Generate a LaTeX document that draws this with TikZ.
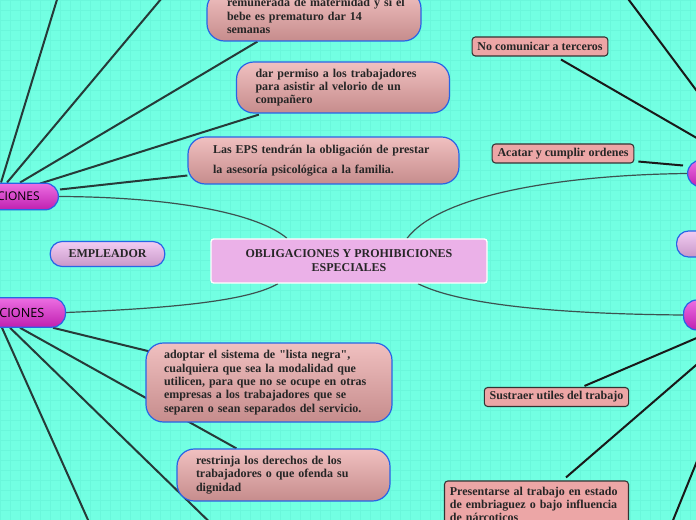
\documentclass[tikz,border=0pt]{standalone}
\usepackage{fontspec}
\setmainfont{Liberation Serif}[Ligatures=TeXOff]
\newfontfamily\cionesfont{Open Sans}
\usetikzlibrary{calc,shadings}

\pgfdeclarelayer{papel}
\pgfdeclarelayer{ramas}
\pgfsetlayers{papel,ramas,main}

\definecolor{fondo}{RGB}{114,255,226}
\definecolor{rejillacol}{RGB}{106,247,219}
\definecolor{lila}{RGB}{235,177,232}
\definecolor{azul}{RGB}{40,100,230}
\definecolor{salmonA}{RGB}{240,192,192}
\definecolor{salmonB}{RGB}{198,140,140}
\definecolor{salmon}{RGB}{236,166,166}
\definecolor{magA}{RGB}{236,110,226}
\definecolor{magB}{RGB}{192,32,176}
\definecolor{lavA}{RGB}{242,204,242}
\definecolor{lavB}{RGB}{200,152,200}
\definecolor{gris}{RGB}{60,82,80}
\definecolor{verdeosc}{RGB}{38,58,56}

\tikzset{
  centro/.style={draw=white, line width=1pt, fill=lila, rounded corners=2pt, minimum width=207pt, minimum height=33pt, align=center, font=\bfseries\fontsize{9}{10.5}\selectfont, text=black!85},
  hoja/.style={draw=azul, line width=0.9pt, top color=salmonA, bottom color=salmonB, rounded corners=13pt, align=left, inner ysep=0pt, font=\bfseries\fontsize{9}{10}\selectfont, text=black!85},
  nota/.style={draw=black!80, line width=0.8pt, fill=salmon, rounded corners=2.5pt, minimum height=14.25pt, inner xsep=4pt, inner ysep=0pt, font=\bfseries\fontsize{9}{10}\selectfont, text=black!85},
  tema/.style={draw=azul, line width=0.9pt, top color=magA, bottom color=magB, rounded corners=10pt, inner ysep=0pt},
  subtema/.style={draw=azul, line width=0.9pt, top color=lavA, bottom color=lavB, rounded corners=9pt, inner ysep=0pt},
  rejilla/.style={draw=rejillacol, line width=0.3pt, xstep=7.5pt, ystep=7.5pt},
  curva/.style={draw=gris, line width=0.9pt},
  rama/.style={draw=verdeosc, line width=1.5pt},
  ramaN/.style={draw=black!90, line width=1.5pt}
}

\begin{document}
\begin{tikzpicture}[x=0.75pt,y=-0.75pt]
\useasboundingbox (0,0) rectangle (696,520);

\begin{pgfonlayer}{papel}
\fill[fondo] (0,0) rectangle (696,520);
\draw[rejilla] (0,520) grid (696,0);
\end{pgfonlayer}

\node[centro] (central) at (349,261) {OBLIGACIONES Y PROHIBICIONES\\ESPECIALES};

\node[tema, anchor=east, minimum height=20pt, text width=50pt, align=right, inner xsep=14pt, font=\cionesfont\fontsize{9}{10}\selectfont] (obligE) at (59,196.5) {CIONES};
\node[tema, anchor=east, minimum height=22pt, text width=50pt, align=right, inner xsep=15.75pt, font=\cionesfont\fontsize{9.5}{10}\selectfont] (prohibE) at (66,312.5) {CIONES};
\node[subtema, minimum width=86pt, minimum height=18.75pt, font=\bfseries\fontsize{9}{10}\selectfont, text=black!85] (empleador) at (107.5,254) {EMPLEADOR};

\node[tema, anchor=west, minimum width=60pt, minimum height=20pt] (obligT) at (687,173.5) {};
\node[subtema, anchor=west, minimum width=60pt, minimum height=19.5pt] (trabajador) at (676,244) {};
\node[tema, anchor=west, minimum width=60pt, minimum height=22.5pt] (prohibT) at (683,315) {};

\node[hoja, text width=130.5pt, inner xsep=15pt, minimum height=37.5pt] (licencia) at (314,16) {\mbox{remunerada de maternidad y si el}\\bebe es prematuro dar 14\\semanas};
\node[hoja, text width=131.25pt, inner xsep=14.25pt, minimum height=38.25pt] (permiso) at (343,87.5) {dar permiso a los trabajadores\\para asistir al velorio de un\\compañero};
\node[hoja, text width=165.75pt, inner xsep=18.75pt, minimum height=35.25pt, font=\bfseries\fontsize{9}{15}\selectfont] (eps) at (323.5,160.5) {Las EPS tendrán la obligación de prestar\\la asesoría psicológica a la familia.};
\node[hoja, text width=157.5pt, inner xsep=13.5pt, minimum height=59.25pt] (listanegra) at (269,382.5) {adoptar el sistema de "lista negra",\\cualquiera que sea la modalidad que\\\mbox{utilicen, para que no se ocupe en otras}\\empresas a los trabajadores que se\\\mbox{separen o sean separados del servicio.}};
\node[hoja, text width=131.25pt, inner xsep=14.25pt, minimum height=39pt] (derechos) at (283.5,475) {restrinja los derechos de los\\trabajadores o que ofenda su\\dignidad};

\node[nota] (terceros) at (540,46.5) {No comunicar a terceros};
\node[nota] (ordenes) at (563,153.5) {Acatar y cumplir ordenes};
\node[nota] (utiles) at (556.5,397) {Sustraer utiles del trabajo};
\node[nota, align=left, text width=130pt, minimum height=35.25pt] (embriaguez) at (536.5,504.5) {Presentarse al trabajo en estado\\de embriaguez o bajo influencia\\de nárcoticos};

\coordinate (arribaA) at (63,-20);
\coordinate (arribaB) at (177,-20);
\coordinate (arribaR) at (614,-20);
\coordinate (abajoA) at (228,540);
\coordinate (abajoB) at (97,540);
\coordinate (abajoR) at (665,540);

\begin{pgfonlayer}{ramas}
\draw[curva] (obligE.east) .. controls (180,197) and (260,215) .. ($(central.north)+(-62,0)$);
\draw[curva] (prohibE.east) .. controls (180,308) and (250,300) .. ($(central.south)+(-71,0)$);
\draw[curva] ($(central.north)+(58,0)$) .. controls (440,195) and (560,175) .. (obligT.west);
\draw[curva] ($(central.south)+(69,0)$) .. controls (460,305) and (560,314) .. (prohibT.west);

\draw[rama] ($(obligE.north east)+(-58,0)$) -- (arribaA);
\draw[rama] ($(obligE.north east)+(-52,0)$) -- (arribaB);
\draw[rama] ($(obligE.north east)+(-39,0)$) -- ($(licencia.south west)+(51,0)$);
\draw[rama] ($(obligE.north east)+(-19,1)$) -- ($(permiso.south west)+(23,1)$);
\draw[rama] ($(obligE.east)+(1,-7)$) -- ($(eps.west)+(0,15)$);

\draw[rama] ($(prohibE.south east)+(-13,0)$) -- ($(listanegra.north west)+(4,9)$);
\draw[rama] ($(prohibE.south east)+(-46,0)$) -- ($(derechos.north west)+(60,0)$);
\draw[rama] ($(prohibE.south east)+(-56,0)$) -- (abajoA);
\draw[rama] ($(prohibE.south east)+(-64,0)$) -- (abajoB);

\draw[ramaN] (arribaR) -- ($(obligT.north west)+(61,0)$);
\draw[ramaN] ($(terceros.south)+(21,3)$) -- ($(obligT.north west)+(47,0)$);
\draw[ramaN] ($(ordenes.south east)+(4,-2)$) -- ($(obligT.west)+(-4,-8)$);

\draw[ramaN] ($(utiles.north)+(28,-1)$) -- ($(prohibT.south west)+(31,0)$);
\draw[ramaN] ($(embriaguez.north west)+(122,-3)$) -- ($(prohibT.south west)+(53,0)$);
\draw[ramaN] ($(prohibT.south west)+(67,0)$) -- (abajoR);
\end{pgfonlayer}
\end{tikzpicture}
\end{document}
